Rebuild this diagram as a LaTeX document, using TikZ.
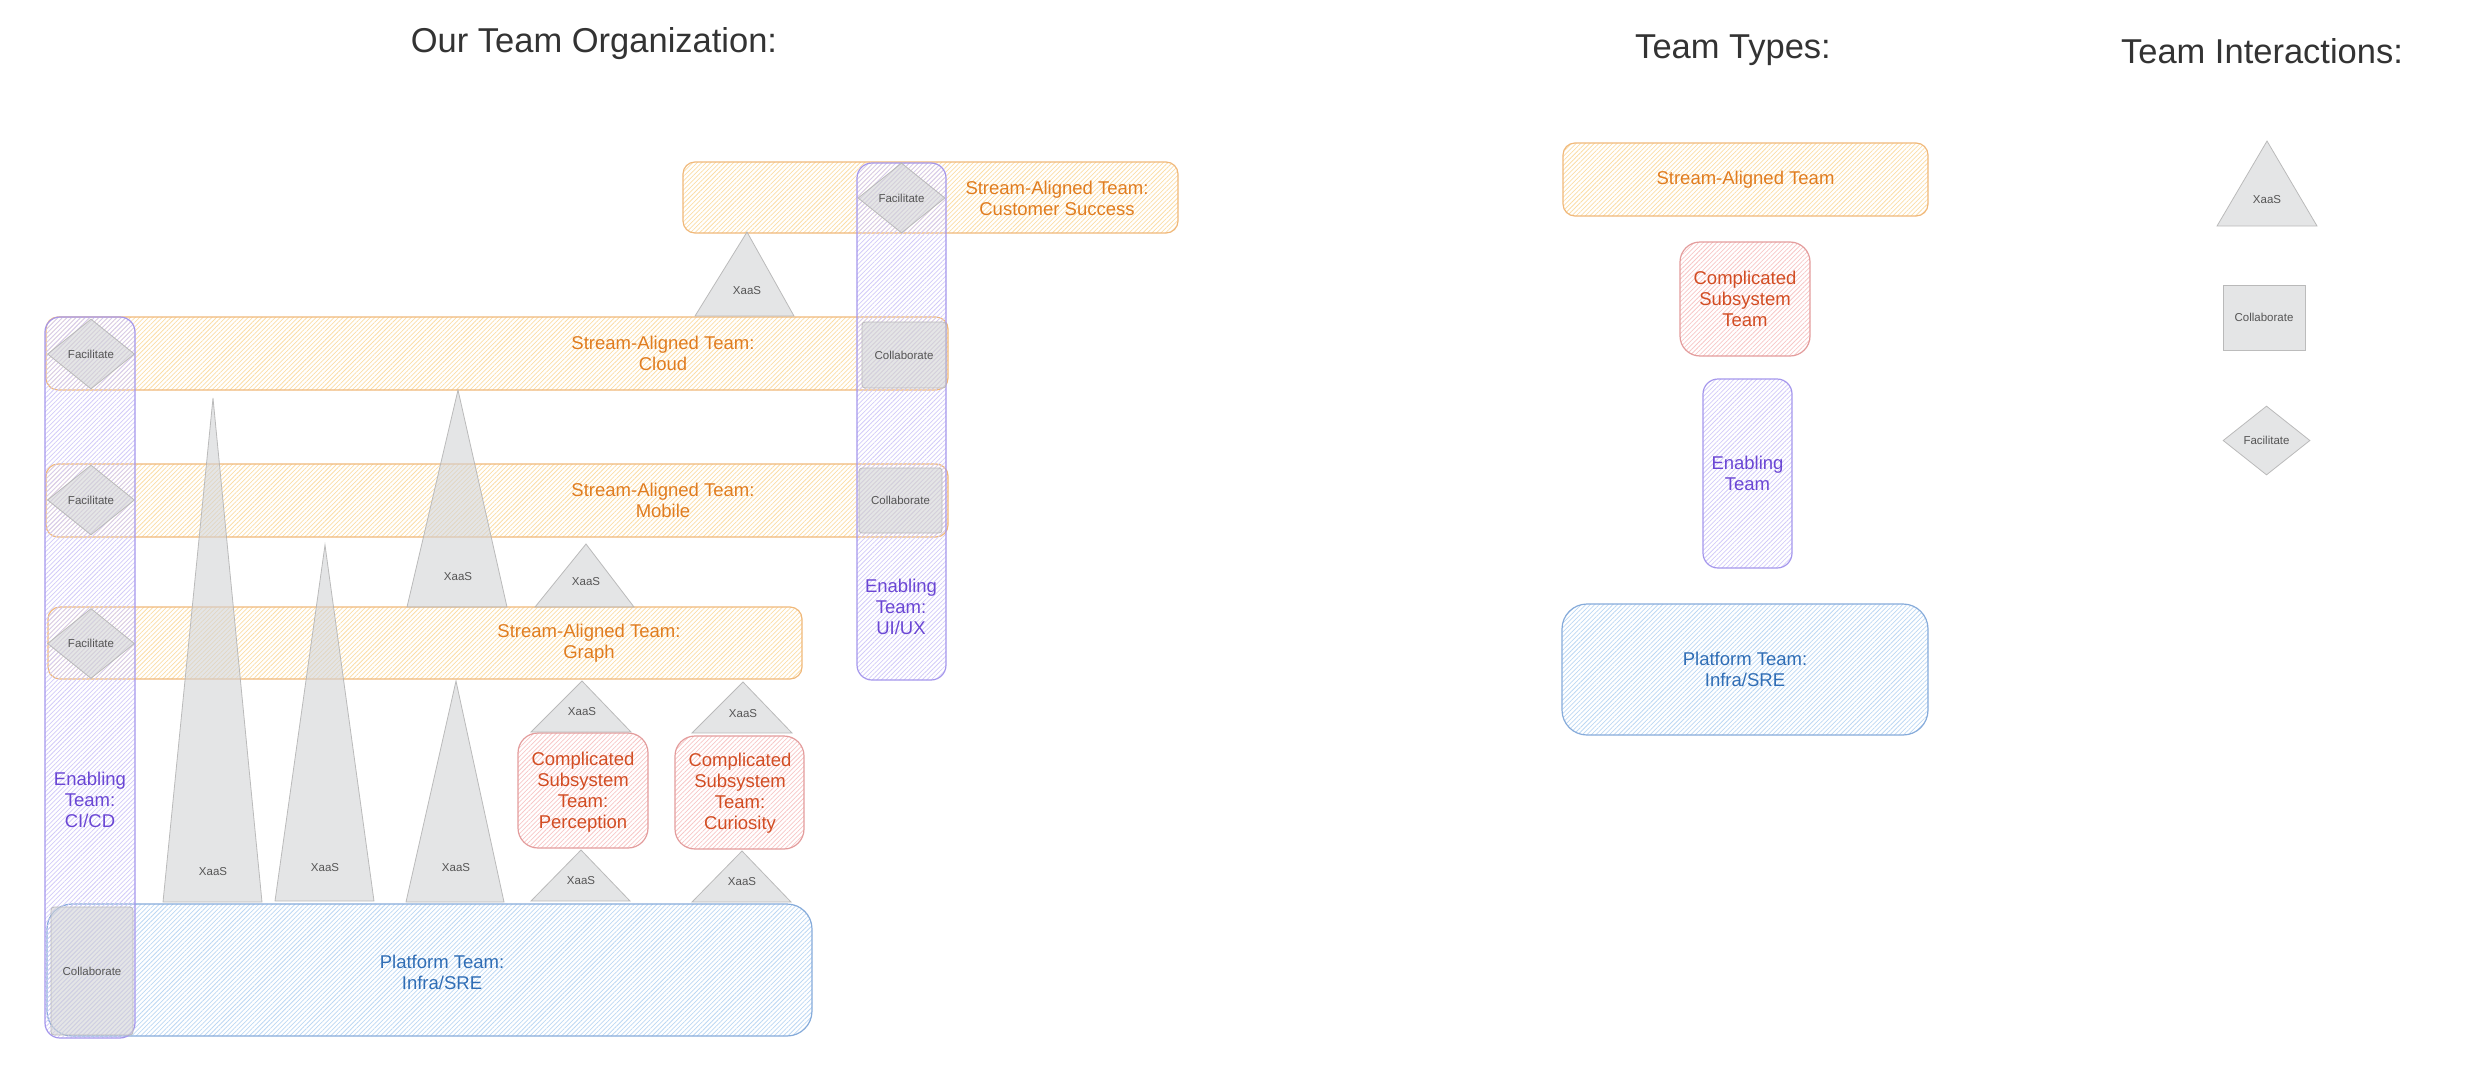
\documentclass[tikz,border=0pt]{standalone}
\usepackage{fontspec}
\setmainfont{Liberation Sans}
\usepackage{tikz}
\usetikzlibrary{patterns.meta, shapes.geometric}
\usepackage{xcolor}

\definecolor{streamDraw}{HTML}{F0B87A}
\definecolor{streamHatch}{HTML}{FBDDA6}
\definecolor{streamText}{HTML}{E07C1F}
\definecolor{compDraw}{HTML}{E39C9C}
\definecolor{compHatch}{HTML}{F7C6C6}
\definecolor{compText}{HTML}{D24C22}
\definecolor{enabDraw}{HTML}{A597EC}
\definecolor{enabHatch}{HTML}{D2CAF8}
\definecolor{enabText}{HTML}{6A46D4}
\definecolor{platDraw}{HTML}{86ABDA}
\definecolor{platHatch}{HTML}{BCD7F3}
\definecolor{platText}{HTML}{2F6DB5}
\definecolor{ixFill}{HTML}{D2D3D5}
\definecolor{ixDraw}{HTML}{B5B5B5}
\definecolor{ixText}{HTML}{555555}
\definecolor{titleText}{HTML}{333333}

\begin{document}
\begin{tikzpicture}[
            x=1pt, y=-1pt,
            every text node part/.style={
                align=center
            },
            team/.style = {
                line width=1.2pt, inner sep=0pt, rounded corners=#1,
            },
            stream/.style = {
                team=12pt, draw=streamDraw,
                pattern={Lines[angle=45, distance=3.2pt, line width=0.75pt]},
                pattern color=streamHatch
            },
            complicated/.style = {
                team=20pt, draw=compDraw,
                pattern={Lines[angle=45, distance=3.2pt, line width=0.75pt]},
                pattern color=compHatch
            },
            enabling/.style = {
                team=15pt, draw=enabDraw,
                pattern={Lines[angle=45, distance=3.2pt, line width=0.75pt]},
                pattern color=enabHatch
            },
            platform/.style = {
                team=25pt, draw=platDraw,
                pattern={Lines[angle=45, distance=3.2pt, line width=0.75pt]},
                pattern color=platHatch
            },
            label txt/.style = {
                font=\fontsize{18.5}{21}\selectfont, text=#1, inner sep=0pt
            },
            interaction/.style = {
                fill=ixFill, fill opacity=0.6, draw=ixDraw, draw opacity=0.9,
                line width=0.8pt, text opacity=1, text=ixText, inner sep=0pt,
                font=\fontsize{11.5}{13}\selectfont
            },
            small txt/.style = {
                text=ixText, inner sep=0pt, font=\fontsize{11.5}{13}\selectfont
            },
            heading/.style = {
                text=titleText, inner sep=0pt, font=\fontsize{34.5}{40}\selectfont
            }
            ]

            \useasboundingbox (0,0) rectangle (2486,1068);

            \node[heading] (orgTitle) at (594,44) {Our Team Organization:};
            \node[heading] (typesTitle) at (1733,50) {Team Types:};
            \node[heading] (ixTitle) at (2262,51) {Team Interactions:};

            \node[stream, minimum width=495, minimum height=71] (custBox) at (930.5,197.5) {};
            \node[stream, minimum width=902, minimum height=73] (cloudBox) at (497,353.5) {};
            \node[stream, minimum width=902, minimum height=73] (mobileBox) at (497,500.5) {};
            \node[stream, minimum width=754, minimum height=72] (graphBox) at (425,643) {};
            \node[platform, minimum width=765, minimum height=132] (platBox) at (429.5,970) {};
            \node[complicated, minimum width=130, minimum height=115] (percBox) at (583,790.5) {};
            \node[complicated, minimum width=129, minimum height=113] (curBox) at (739.5,792.5) {};

            \node[label txt=streamText] (custTxt) at (1057,198) {Stream-Aligned Team:\\Customer Success};
            \node[label txt=streamText] (cloudTxt) at (663,353.5) {Stream-Aligned Team:\\Cloud};
            \node[label txt=streamText] (mobileTxt) at (663,500.5) {Stream-Aligned Team:\\Mobile};
            \node[label txt=streamText] (graphTxt) at (589,643) {Stream-Aligned Team:\\Graph};
            \node[label txt=platText] (platTxt) at (442,972) {Platform Team:\\Infra/SRE};
            \node[label txt=compText] (percTxt) at (583,792) {Complicated\\Subsystem\\Team:\\Perception};
            \node[label txt=compText] (curTxt) at (740,793) {Complicated\\Subsystem\\Team:\\Curiosity};

            \node[enabling, minimum width=90, minimum height=721] (cicdBox) at (90,677.5) {};
            \node[enabling, minimum width=89, minimum height=517] (uiuxBox) at (901.5,421.5) {};
            \node[label txt=enabText] (cicdTxt) at (90,800) {Enabling\\Team:\\CI/CD};
            \node[label txt=enabText] (uiuxTxt) at (901,607) {Enabling\\Team:\\UI/UX};

            \foreach \n/\ax/\ay/\bl/\br/\by/\ty in {cust/747/232/695/794/316/291, tallA/213/398/163/262/902/872,
                    tallB/325/545/275/374/901/868, cloudB/458/390/407/507/607/577, graphA/456/681/406/504/902/868,
                    mobileB/586/544/535/634/607/582, percTop/582/681/531/631/732/712, curTop/743/682/692/792/733/714,
                    percLow/581/850/531/630/901/881, curLow/742/851/692/791/902/882, legend/2267/141/2217/2317/226/200} {
                \draw[interaction] (\ax,\ay) -- (\br,\by) -- (\bl,\by) -- cycle;
                \node[small txt] (xaas\n) at (\ax,\ty) {XaaS};
            }

            \foreach \n/\cx/\cy in {cloud/91/354, mobile/91/500, graph/91/643.5, cust/901.5/198} {
                \node[interaction, diamond, minimum width=87, minimum height=70] (fac\n) at (\cx,\cy) {Facilitate};
            }

            \foreach \n/\cx/\cy/\w/\h in {cloud/904/355/84/66, mobile/900.5/500.5/83/65, plat/92/971/82/128} {
                \node[interaction, rounded corners=3pt, minimum width=\w, minimum height=\h] (col\n) at (\cx,\cy) {Collaborate};
            }

            \node[stream, minimum width=365, minimum height=73] (keyStream) at (1745.5,179.5) {};
            \node[label txt=streamText] at (keyStream) {Stream-Aligned Team};
            \node[complicated, minimum width=130, minimum height=114] (keyComp) at (1745,299) {};
            \node[label txt=compText] at (keyComp) {Complicated\\Subsystem\\Team};
            \node[enabling, minimum width=89, minimum height=189] (keyEnab) at (1747.5,473.5) {};
            \node[label txt=enabText] at (keyEnab) {Enabling\\Team};
            \node[platform, minimum width=366, minimum height=131] (keyPlat) at (1745,669.5) {};
            \node[label txt=platText] at (keyPlat) {Platform Team:\\Infra/SRE};

            \node[interaction, minimum width=82, minimum height=65] (keyCollab) at (2264,317.5) {Collaborate};
            \node[interaction, diamond, minimum width=87, minimum height=69] (keyFac) at (2266.5,440.5) {Facilitate};

        \end{tikzpicture}
\end{document}
